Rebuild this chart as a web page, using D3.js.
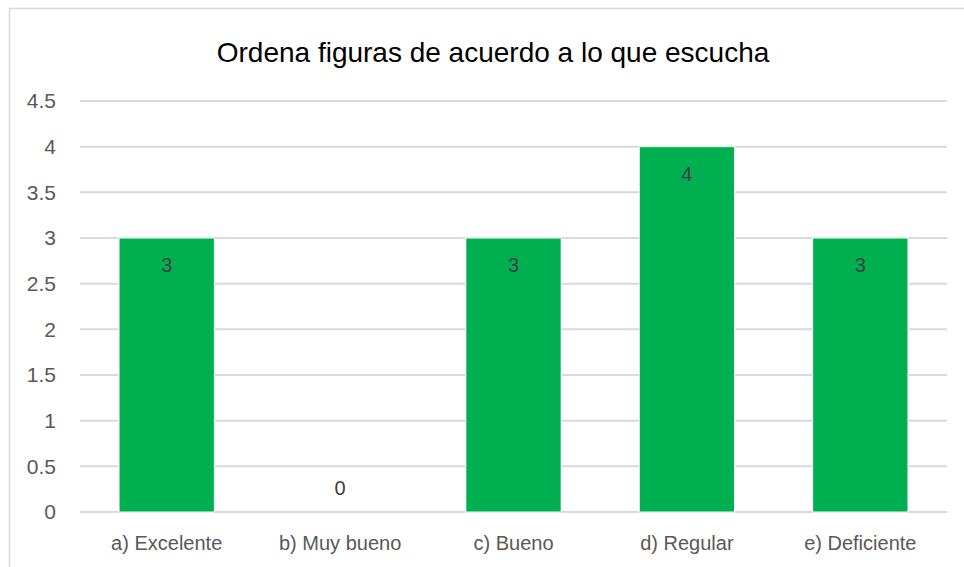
<!DOCTYPE html>
<html>
<head>
<meta charset="utf-8">
<script src="https://cdn.jsdelivr.net/npm/d3@7"></script>
<style>
  body { margin: 0; background: #fff; }
  text { font-family: "Liberation Sans", Arial, sans-serif; }
</style>
</head>
<body>
<div id="chart"></div>
<script>
// Data
const categories = ["a) Excelente", "b) Muy bueno", "c) Bueno", "d) Regular", "e) Deficiente"];
const values = [3, 0, 3, 4, 3];
const yTicks = [0, 0.5, 1, 1.5, 2, 2.5, 3, 3.5, 4, 4.5];
const chartTitle = "Ordena figuras de acuerdo a lo que escucha";

const W = 964, H = 567;
const margin = { top: 101, right: 17, bottom: 55, left: 80 };
const width = W - margin.left - margin.right;
const height = H - margin.top - margin.bottom;

const svg = d3.select("#chart")
    .append("svg")
    .attr("width", W)
    .attr("height", H);

// chart border
svg.append("rect")
    .attr("x", 9.5)
    .attr("y", 8.5)
    .attr("width", W + 10)
    .attr("height", H + 10)
    .attr("fill", "#fff")
    .attr("stroke", "#d9d9d9")
    .attr("stroke-width", 1.5);

// title
svg.append("text")
    .attr("x", 493)
    .attr("y", 62)
    .attr("text-anchor", "middle")
    .style("font-size", "28px")
    .style("fill", "#000")
    .text(chartTitle);

const g = svg.append("g")
    .attr("transform", "translate(" + margin.left + "," + margin.top + ")");

// scales
const xScale = d3.scaleBand()
    .domain(categories)
    .range([0, width])
    .paddingInner(0.45)
    .paddingOuter(0.225);

const yScale = d3.scaleLinear()
    .domain([0, 4.5])
    .range([height, 0]);

// gridlines
g.selectAll(".grid")
    .data(yTicks)
    .enter()
    .append("line")
    .attr("class", "grid")
    .attr("x1", 0)
    .attr("x2", width)
    .attr("y1", d => yScale(d))
    .attr("y2", d => yScale(d))
    .attr("stroke", "#d9d9d9")
    .attr("stroke-width", 2);

// y axis labels
const yAxis = g.append("g")
    .call(d3.axisLeft(yScale).tickValues(yTicks).tickFormat(d3.format("")).tickSize(0).tickPadding(24));
yAxis.select(".domain").remove();
yAxis.selectAll("text")
    .style("font-size", "21px")
    .style("fill", "#595959")
    .style("font-family", "'Liberation Sans', Arial, sans-serif");

// x axis labels
const xAxis = g.append("g")
    .attr("transform", "translate(0," + height + ")")
    .call(d3.axisBottom(xScale).tickSize(0).tickPadding(24));
xAxis.select(".domain").remove();
xAxis.selectAll("text")
    .style("font-size", "20px")
    .style("fill", "#595959")
    .style("font-family", "'Liberation Sans', Arial, sans-serif");

// bars
g.selectAll(".bar")
    .data(values)
    .enter()
    .append("rect")
    .attr("class", "bar")
    .attr("x", (d, i) => xScale(categories[i]))
    .attr("y", d => yScale(d))
    .attr("width", xScale.bandwidth())
    .attr("height", d => height - yScale(d))
    .attr("fill", "#00b050")
    .attr("stroke", "#fff")
    .attr("stroke-width", d => d > 0 ? 1 : 0);

// data labels (inside end; zero bar gets its label just above the baseline)
g.selectAll(".label")
    .data(values)
    .enter()
    .append("text")
    .attr("class", "label")
    .attr("x", (d, i) => xScale(categories[i]) + xScale.bandwidth() / 2)
    .attr("y", d => d > 0 ? yScale(d) + 34 : yScale(d) - 17)
    .attr("text-anchor", "middle")
    .style("font-size", "20px")
    .style("fill", "#404040")
    .text(d => d);
</script>
</body>
</html>
